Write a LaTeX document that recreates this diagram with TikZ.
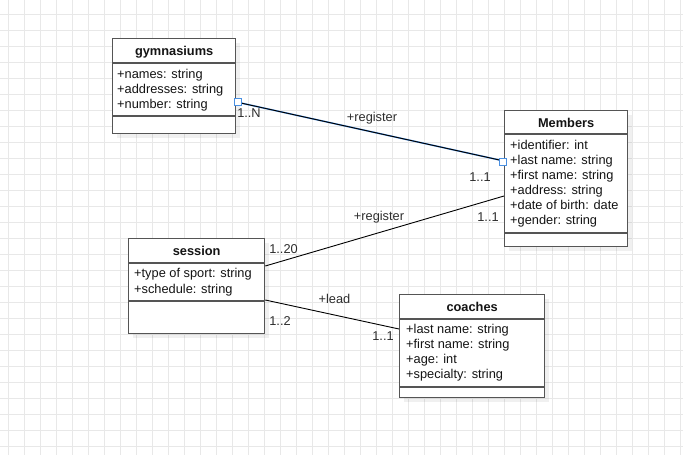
\documentclass[tikz,border=0pt]{standalone}
\usepackage{fontspec}
\setmainfont{Liberation Sans}
\usetikzlibrary{calc,shadows}
\definecolor{gridc}{RGB}{232,232,232}
\definecolor{boxline}{RGB}{85,85,85}
\definecolor{txt}{RGB}{20,20,20}
\definecolor{lblc}{RGB}{45,45,45}
\definecolor{selblue}{RGB}{74,144,226}
\begin{document}
\begin{tikzpicture}[x=1pt,y=-1pt,
  umlbox/.style={draw=boxline, line width=1.3pt, fill=white, inner sep=0pt, anchor=north west,
    drop shadow={shadow xshift=4pt, shadow yshift=-4pt, fill=black, opacity=0.06}},
  sepline/.style={draw=boxline, line width=1.3pt},
  titletext/.style={font=\fontsize{12.8}{15}\selectfont\bfseries, text=txt, inner sep=0pt, text height=9pt, text depth=0pt},
  attr/.style={font=\fontsize{12.8}{15}\selectfont, text=txt, inner sep=0pt, anchor=west, text height=9pt, text depth=0pt},
  lbl/.style={font=\fontsize{12.8}{15}\selectfont, text=lblc, inner sep=0pt, text height=9pt, text depth=0pt},
  assoc/.style={draw=black, line width=0.9pt},
  selglow/.style={draw=selblue, line width=1.5pt},
  handle/.style={draw=selblue, fill=white, line width=0.8pt, minimum size=7.5pt, inner sep=0pt}
]
\useasboundingbox (0,0) rectangle (683,455);
\fill[white] (0,0) rectangle (683,455);
\foreach \x in {8,24,...,683} \draw[gridc, line width=0.8pt] (\x,0) -- (\x,455);
\foreach \y in {14,30,...,455} \draw[gridc, line width=0.8pt] (0,\y) -- (683,\y);

% gymnasiums
\node[umlbox, minimum width=123pt, minimum height=95pt] (gym) at (112,38) {};
\draw[sepline] ($(gym.north west)+(0,25)$) -- ($(gym.north east)+(0,25)$);
\draw[sepline] ($(gym.north west)+(0,78)$) -- ($(gym.north east)+(0,78)$);
\node[titletext] (gymT) at ($(gym.north)+(0,13)$) {gymnasiums};
\node[attr] (gymA1) at (117,73.5) {+names: string};
\node[attr] (gymA2) at (117,88.5) {+addresses: string};
\node[attr] (gymA3) at (117,103.5) {+number: string};

% Members
\node[umlbox, minimum width=123pt, minimum height=136pt] (mem) at (504,110) {};
\draw[sepline] ($(mem.north west)+(0,24)$) -- ($(mem.north east)+(0,24)$);
\draw[sepline] ($(mem.north west)+(0,123)$) -- ($(mem.north east)+(0,123)$);
\node[titletext] (memT) at ($(mem.north)+(0,12.5)$) {Members};
\node[attr] (memA1) at (510,145.3) {+identifier: int};
\node[attr] (memA2) at (510,160.3) {+last name: string};
\node[attr] (memA3) at (510,175.3) {+first name: string};
\node[attr] (memA4) at (510,190.3) {+address: string};
\node[attr] (memA5) at (510,205.3) {+date of birth: date};
\node[attr] (memA6) at (510,220.3) {+gender: string};

% session
\node[umlbox, minimum width=136pt, minimum height=95pt] (ses) at (128,238) {};
\draw[sepline] ($(ses.north west)+(0,25)$) -- ($(ses.north east)+(0,25)$);
\draw[sepline] ($(ses.north west)+(0,63)$) -- ($(ses.north east)+(0,63)$);
\node[titletext] (sesT) at ($(ses.north)+(0,12.5)$) {session};
\node[attr] (sesA1) at (134,273.3) {+type of sport: string};
\node[attr] (sesA2) at (134,288.6) {+schedule: string};

% coaches
\node[umlbox, minimum width=145pt, minimum height=103pt] (coa) at (399,294) {};
\draw[sepline] ($(coa.north west)+(0,25)$) -- ($(coa.north east)+(0,25)$);
\draw[sepline] ($(coa.north west)+(0,93)$) -- ($(coa.north east)+(0,93)$);
\node[titletext] (coaT) at ($(coa.north)+(0,12.5)$) {coaches};
\node[attr] (coaA1) at (406,329.3) {+last name: string};
\node[attr] (coaA2) at (406,344.3) {+first name: string};
\node[attr] (coaA3) at (406,359.3) {+age: int};
\node[attr] (coaA4) at (406,374.3) {+specialty: string};

% connector gymnasiums -- Members (selected)
\draw[selglow] ($(gym.north east)+(0,64)$) -- ($(mem.north west)+(0,51)$);
\draw[assoc] ($(gym.north east)+(0,64)$) -- ($(mem.north west)+(0,51)$);
\node[handle] (h1) at ($(gym.north east)+(1.5,64)$) {};
\node[handle] (h2) at ($(mem.north west)+(-1,52)$) {};
\node[lbl] (l1) at (372,117) {+register};
\node[lbl] (l1a) at (249,112.7) {1..N};
\node[lbl] (l1b) at (480,177) {1..1};

% connector session -- Members
\draw[assoc] ($(ses.north east)+(0,28)$) -- ($(mem.north west)+(0,86)$);
\node[lbl] (l2) at (379,215.7) {+register};
\node[lbl] (l2a) at (283.5,249) {1..20};
\node[lbl] (l2b) at (488,216.7) {1..1};

% connector session -- coaches
\draw[assoc] ($(ses.north east)+(0,62)$) -- ($(coa.north west)+(0,35)$);
\node[lbl] (l3) at (334.5,299.3) {+lead};
\node[lbl] (l3a) at (280,321) {1..2};
\node[lbl] (l3b) at (383,335.7) {1..1};
\end{tikzpicture}
\end{document}
